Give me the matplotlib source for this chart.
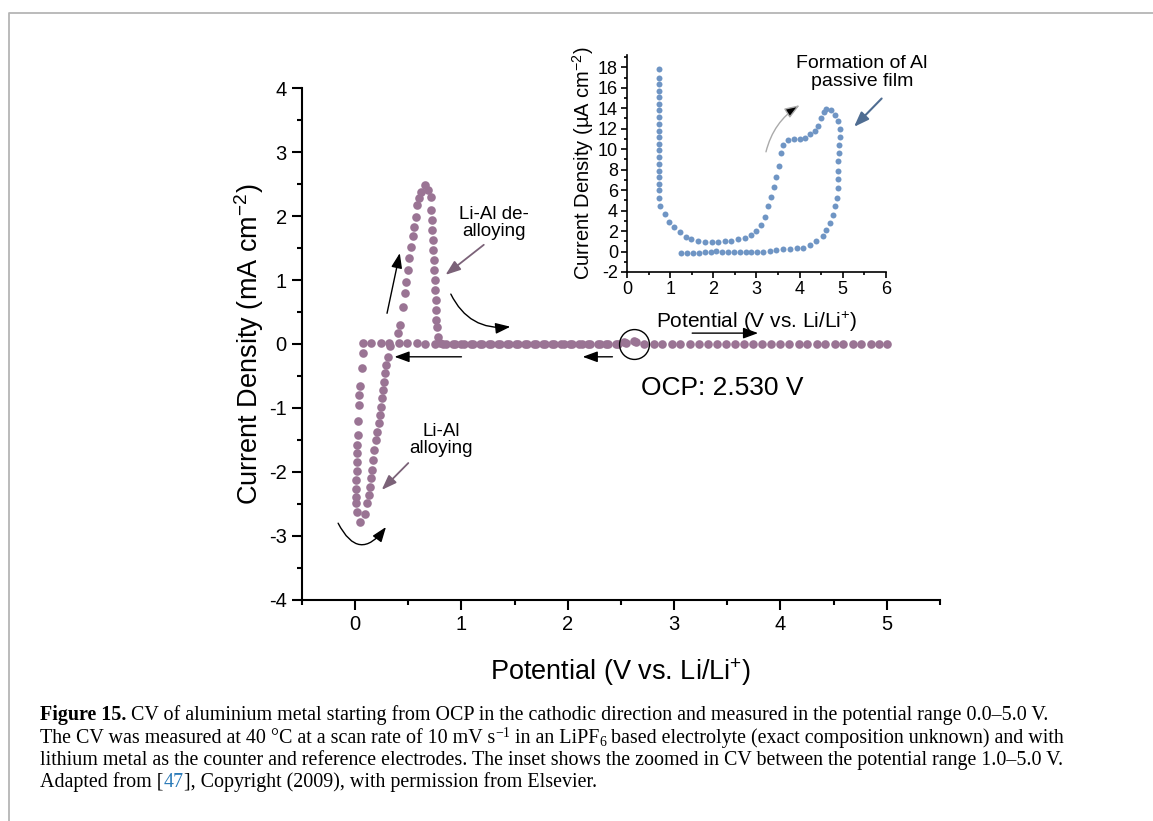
import matplotlib
matplotlib.use("Agg")
import matplotlib.pyplot as plt
from matplotlib.ticker import MultipleLocator
from matplotlib.lines import Line2D

plt.rcParams['font.family'] = ['Liberation Sans', 'DejaVu Sans']
plt.rcParams['axes.unicode_minus'] = False

# main CV: potential (V vs Li/Li+) and current density (mA cm-2)
# cathodic scan from OCP down to ~0 V (flat part, then the alloying drop)
cath_v = [2.62, 2.53, 2.45, 2.36, 2.28, 2.19, 2.11, 2.02, 1.94, 1.85, 1.77, 1.68, 1.60,
          1.51, 1.43, 1.34, 1.26, 1.17, 1.09, 1.00, 0.92, 0.83, 0.75, 0.66, 0.58, 0.49,
          0.41, 0.32, 0.24, 0.15, 0.07,
          0.07, 0.06, 0.05, 0.04, 0.04, 0.03, 0.03, 0.02, 0.02, 0.02, 0.02, 0.01, 0.01,
          0.01, 0.01, 0.02, 0.05]
cath_i = [0.04, 0.03, 0.0, 0.0, 0.0, 0.0, 0.0, 0.0, 0.0, 0.0, 0.0, 0.0, 0.0,
          0.0, 0.0, 0.0, 0.0, 0.0, 0.0, 0.0, 0.0, 0.0, 0.0, 0.0, 0.01, 0.01,
          0.02, 0.02, 0.02, 0.02, 0.02,
          -0.14, -0.38, -0.66, -0.80, -0.95, -1.21, -1.42, -1.58, -1.71, -1.84, -1.99, -2.13, -2.26,
          -2.39, -2.49, -2.62, -2.78]

# anodic scan: end of alloying, de-alloying peak, then flat up to 5 V
an_v = [0.09, 0.11, 0.13, 0.14, 0.15, 0.16, 0.17, 0.18, 0.20, 0.21, 0.22, 0.23, 0.24,
        0.25, 0.26, 0.27, 0.28, 0.29, 0.31, 0.33,
        0.40, 0.42, 0.45, 0.47, 0.48, 0.50, 0.51, 0.53, 0.54, 0.55, 0.57, 0.58, 0.60,
        0.62, 0.66, 0.69, 0.71,
        0.71, 0.72, 0.72, 0.73, 0.73, 0.74, 0.74, 0.75, 0.75, 0.76, 0.76, 0.76, 0.77,
        0.78, 0.80,
        0.85, 0.94, 1.02, 1.11, 1.19, 1.28, 1.36, 1.45, 1.53, 1.62, 1.70, 1.79, 1.87,
        1.96, 2.04, 2.13, 2.21, 2.30, 2.38, 2.47, 2.55, 2.64, 2.72, 2.81, 2.89, 2.98,
        3.06, 3.15, 3.23, 3.32, 3.40, 3.49, 3.57, 3.66, 3.74, 3.83, 3.91, 4.00, 4.08,
        4.17, 4.25, 4.34, 4.42, 4.51, 4.59, 4.68, 4.76, 4.85, 4.93, 5.00]
an_i = [-2.65, -2.49, -2.36, -2.23, -2.10, -1.97, -1.81, -1.66, -1.50, -1.37, -1.24, -1.11, -0.98,
        -0.85, -0.72, -0.59, -0.46, -0.33, -0.20, -0.03,
        0.17, 0.30, 0.58, 0.79, 0.97, 1.16, 1.34, 1.51, 1.68, 1.83, 1.99, 2.17, 2.28,
        2.38, 2.48, 2.41, 2.30,
        2.09, 1.94, 1.78, 1.62, 1.47, 1.31, 1.16, 1.00, 0.84, 0.69, 0.53, 0.38, 0.27,
        0.11, 0.02,
        0.0, 0.0, 0.0, 0.0, 0.0, 0.0, 0.0, 0.0, 0.0, 0.0, 0.0, 0.0, 0.0,
        0.0, 0.0, 0.0, 0.0, 0.0, 0.0, 0.0, 0.02, 0.03, 0.0, 0.0, 0.0, 0.0,
        0.0, 0.0, 0.0, 0.0, 0.0, 0.0, 0.0, 0.0, 0.0, 0.0, 0.0, 0.0, 0.0,
        0.0, 0.0, 0.0, 0.0, 0.0, 0.0, 0.0, 0.0, 0.0, 0.0, 0.0]

circle_v = 2.62
ocp_label = 'OCP: 2.530 V'

# inset CV: potential (V) and current density (uA cm-2)
ins_v = [1.26, 1.40, 1.53, 1.67, 1.80, 1.94, 2.07, 2.21, 2.34, 2.48, 2.61, 2.75, 2.88,
         3.02, 3.15, 3.31, 3.46, 3.62, 3.77, 3.93, 4.08, 4.24, 4.39, 4.53, 4.62, 4.70,
         4.78, 4.82, 4.86, 4.88, 4.90, 4.90, 4.90, 4.92, 4.92, 4.93, 4.93,
         4.90, 4.82, 4.72, 4.62, 4.56, 4.49, 4.43, 4.35, 4.24, 4.12, 4.00, 3.87, 3.73,
         3.62, 3.56, 3.52, 3.46, 3.40, 3.33, 3.27, 3.19, 3.10, 3.00, 2.88, 2.73, 2.58,
         2.42, 2.27, 2.11, 1.96, 1.80, 1.65, 1.49, 1.36, 1.22, 1.10, 0.97, 0.87, 0.76,
         0.75, 0.74, 0.74, 0.74, 0.74, 0.74, 0.74, 0.74, 0.74, 0.74, 0.74, 0.74, 0.74,
         0.74, 0.74, 0.74, 0.74, 0.74, 0.74]
ins_i = [-0.10, -0.10, -0.10, -0.10, -0.08, -0.05, 0.02, -0.05, -0.05, -0.05, -0.05, -0.05, -0.05,
         -0.05, 0.0, 0.10, 0.15, 0.20, 0.25, 0.30, 0.30, 0.65, 1.0, 1.5, 2.1, 2.8,
         3.6, 4.4, 5.2, 6.2, 7.1, 7.9, 8.8, 9.6, 10.4, 11.2, 12.0,
         12.8, 13.3, 13.8, 13.9, 13.6, 13.0, 12.3, 11.8, 11.45, 11.1, 11.0, 11.0, 10.9,
         10.4, 9.6, 8.4, 7.3, 6.3, 5.35, 4.4, 3.4, 2.6, 2.04, 1.62, 1.33, 1.2,
         1.07, 1.04, 0.9, 0.9, 0.97, 1.04, 1.2, 1.46, 1.95, 2.4, 2.9, 3.7, 4.4,
         5.2, 6.0, 6.6, 7.3, 7.9, 8.6, 9.2, 9.9, 10.5, 11.2, 11.8, 12.5, 13.1,
         13.8, 14.4, 15.1, 15.7, 16.4, 17.0]
ins_top_v = [0.74]
ins_top_i = [17.8]

purple = '#9a7494'
blue = '#6f95c4'

fig = plt.figure(figsize=(11.53, 8.21), dpi=100)

# --- main axes
ax = fig.add_axes([0.2619, 0.2692, 0.5533, 0.6236])
ax.plot(cath_v, cath_i, 'o', ms=6.2, color=purple, mec='none')
ax.plot(an_v, an_i, 'o', ms=6.2, color=purple, mec='none')
ax.plot([circle_v], [0], 'o', ms=21.5, mfc='none', mec='black', mew=1.0)

ax.set_xlim(-0.5, 5.5)
ax.set_ylim(-4, 4)
ax.xaxis.set_major_locator(MultipleLocator(1))
ax.xaxis.set_minor_locator(MultipleLocator(0.5))
ax.yaxis.set_major_locator(MultipleLocator(1))
ax.yaxis.set_minor_locator(MultipleLocator(0.5))
for s in ['top', 'right']:
    ax.spines[s].set_visible(False)
for s in ['left', 'bottom']:
    ax.spines[s].set_linewidth(1.5)
ax.tick_params(which='major', direction='out', length=7, width=1.5, labelsize=14.5, pad=4)
ax.tick_params(which='minor', direction='out', length=3.5, width=1.5)
ax.set_xlabel('Potential (V vs. Li/Li$^{\\mathregular{+}}$)', fontsize=19.5, labelpad=16)
ax.set_ylabel('Current Density (mA cm$^{\\mathregular{-2}}$)', fontsize=19.5, labelpad=2)

def arrow(a, start, tip, rad=0.0, lc='black', hc='black', lw=1.0):
    a.annotate('', xy=tip, xytext=start, annotation_clip=False,
               arrowprops=dict(arrowstyle='-|>,head_length=0.6,head_width=0.22',
                               mutation_scale=15, lw=lw, ec=lc, fc=hc,
                               shrinkA=0, shrinkB=0,
                               connectionstyle='arc3,rad=%s' % rad))

arrow(ax, (0.30, 0.48), (0.42, 1.42))
arrow(ax, (0.90, 0.78), (1.46, 0.27), rad=0.35)
arrow(ax, (1.00, -0.20), (0.37, -0.20))
arrow(ax, (2.42, -0.20), (2.14, -0.20))
arrow(ax, (3.17, 0.17), (3.79, 0.17))
arrow(ax, (-0.16, -2.80), (0.29, -2.86), rad=0.8)
arrow(ax, (1.21, 1.55), (0.85, 1.08), lc='#7b6278', hc='#7b6278', lw=1.3)
arrow(ax, (0.50, -1.86), (0.25, -2.28), lc='#7b6278', hc='#7b6278', lw=1.3)

ax.text(1.31, 1.89, 'Li-Al de-\nalloying', ha='center', va='center', fontsize=13.5, linespacing=1.05)
ax.text(0.81, -1.50, 'Li-Al\nalloying', ha='center', va='center', fontsize=13.5, linespacing=1.05)
ax.text(3.45, -0.69, ocp_label, ha='center', va='center', fontsize=19)

# --- inset
ins = fig.add_axes([0.5438, 0.6687, 0.2246, 0.2643])
ins.plot(ins_v, ins_i, 'o', ms=4.3, color=blue, mec='none')
ins.plot(ins_top_v, ins_top_i, 'o', ms=4.3, color=blue, mec='none')
ins.set_xlim(0, 6)
ins.set_ylim(-2, 19.2)
ins.xaxis.set_major_locator(MultipleLocator(1))
ins.xaxis.set_minor_locator(MultipleLocator(0.5))
ins.yaxis.set_major_locator(MultipleLocator(2))
ins.yaxis.set_minor_locator(MultipleLocator(1))
for s in ['top', 'right']:
    ins.spines[s].set_visible(False)
for s in ['left', 'bottom']:
    ins.spines[s].set_linewidth(1.2)
ins.tick_params(which='major', direction='out', length=4.5, width=1.2, labelsize=13, pad=2)
ins.tick_params(which='minor', direction='out', length=2.5, width=1.2)
ins.set_xlabel('Potential (V vs. Li/Li$^{\\mathregular{+}}$)', fontsize=15, labelpad=8)
ins.set_ylabel('Current Density (\u00b5A cm$^{\\mathregular{-2}}$)', fontsize=14.5, labelpad=1)

ins.text(5.44, 17.5, 'Formation of Al\npassive film', ha='center', va='center', fontsize=14,
         linespacing=1.1, clip_on=False)
arrow(ins, (5.90, 14.95), (5.26, 12.18), lc='#4f6d92', hc='#4f6d92', lw=1.5)
arrow(ins, (3.22, 9.74), (4.00, 14.30), rad=-0.2, lc='#aaaaaa', hc='black', lw=1.0)

# --- frame line of the page
fig.add_artist(Line2D([9 / 1153, 9 / 1153, 1], [0, 1 - 13 / 821, 1 - 13 / 821],
                      transform=fig.transFigure, color='#b5b5b5', lw=1.3))

# --- caption, drawn piece by piece (bold lead, super/subscripts, blue reference)
cap_size = 14.4
serif = ['Liberation Serif', 'DejaVu Serif']
renderer = fig.canvas.get_renderer()

def caption_line(ypix, pieces):
    x = 40 / 1153
    for txt, kw in pieces:
        kw = dict(kw)
        dy = kw.pop('dy', 0)
        size = kw.pop('size', cap_size)
        t = fig.text(x, 1 - (ypix - dy) / 821, txt, ha='left', va='baseline',
                     fontsize=size, family=serif, **kw)
        w = t.get_window_extent(renderer).width
        x += w / fig.bbox.width

caption_line(720, [('Figure 15.', dict(weight='bold')),
                   (' CV of aluminium metal starting from OCP in the cathodic direction and measured '
                    'in the potential range 0.0\u20135.0 V.', {})])
caption_line(743, [('The CV was measured at 40 \u00b0C at a scan rate of 10 mV s', {}),
                   ('\u22121', dict(size=10, dy=6)),
                   (' in an LiPF', {}),
                   ('6', dict(size=10, dy=-3)),
                   (' based electrolyte (exact composition unknown) and with', {})])
caption_line(765, [('lithium metal as the counter and reference electrodes. The inset shows the zoomed in CV '
                    'between the potential range 1.0\u20135.0 V.', {})])
caption_line(787, [('Adapted from [', {}), ('47', dict(color='#2a7ab8')),
                   ('], Copyright (2009), with permission from Elsevier.', {})])

fig.savefig('out.png', dpi=100)
